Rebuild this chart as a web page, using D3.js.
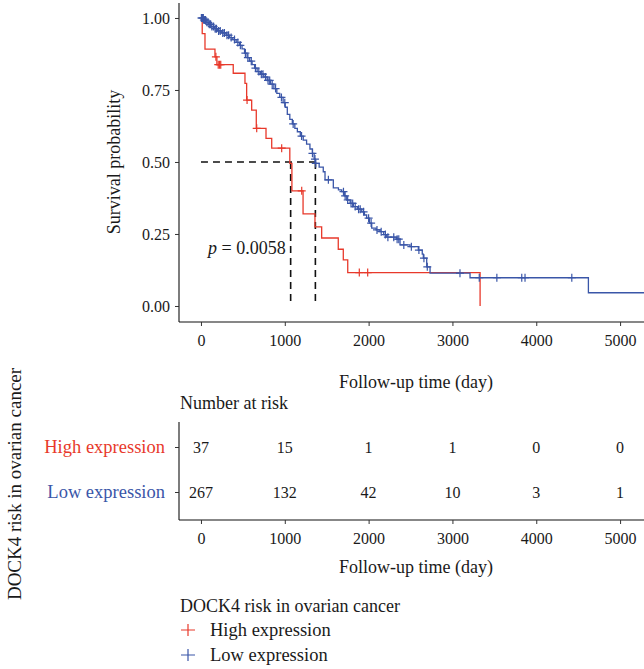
<!DOCTYPE html>
<html>
<head>
<meta charset="utf-8">
<script src="https://cdn.jsdelivr.net/npm/d3@7"></script>
<style>
  body { margin: 0; background: #fff; }
  svg text { font-family: "Liberation Serif", "DejaVu Serif", serif; }
</style>
</head>
<body>
<div id="chart"></div>
<script>
// survival steps: time (day) and survival after that time
var highTime = [0, 15, 48, 167, 190, 385, 525, 545, 605, 660, 776, 844, 1060, 1085, 1218, 1360, 1440, 1638, 1698, 1751, 3330];
var highSurv = [1, 0.946, 0.892, 0.865, 0.838, 0.808, 0.773, 0.715, 0.68, 0.617, 0.582, 0.548, 0.495, 0.40, 0.32, 0.275, 0.236, 0.197, 0.16, 0.116, 0];
var highCensor = [178, 206, 222, 236, 550, 665, 963, 1202, 1889, 1989];

var lowTime = [0, 30, 60, 90, 120, 160, 200, 250, 300, 340, 380, 420, 460, 490, 520, 550, 580, 610, 640, 670,
  710, 750, 790, 830, 870, 905, 940, 980, 1005, 1030, 1060, 1090, 1120, 1150, 1185, 1220, 1260, 1300, 1330, 1350,
  1365, 1410, 1459, 1480, 1579, 1640, 1679, 1710, 1739, 1780, 1818, 1870, 1918, 1950, 1977, 2010, 2037, 2090, 2136,
  2180, 2216, 2335, 2375, 2494, 2593, 2640, 2653, 2693, 2733, 3210, 4622, 5500];
var lowSurv = [1, 0.993, 0.985, 0.978, 0.97, 0.963, 0.955, 0.948, 0.94, 0.932, 0.925, 0.915, 0.905, 0.893, 0.878, 0.862, 0.85, 0.838, 0.826, 0.814,
  0.805, 0.795, 0.783, 0.77, 0.755, 0.738, 0.724, 0.706, 0.69, 0.665, 0.648, 0.632, 0.617, 0.605, 0.59, 0.576, 0.562, 0.545, 0.53, 0.51,
  0.495, 0.482, 0.466, 0.438, 0.41, 0.403, 0.397, 0.382, 0.368, 0.356, 0.345, 0.336, 0.327, 0.316, 0.305, 0.288, 0.27, 0.264, 0.258,
  0.248, 0.239, 0.232, 0.212, 0.206, 0.194, 0.18, 0.166, 0.136, 0.114, 0.098, 0.046, 0.046];
var lowCensor = [5, 12, 20, 28, 35, 45, 55, 70, 85, 100, 115, 130, 150, 170, 185, 210, 230, 260, 280, 310, 330, 360, 400, 440,
  470, 530, 560, 600, 650, 690, 720, 740, 770, 800, 820, 850, 890, 960, 1000, 1100, 1200, 1330, 1360, 1370, 1520, 1700,
  1720, 1750, 1790, 1810, 1840, 1880, 1900, 1940, 2000, 2030, 2100, 2150, 2200, 2230, 2300, 2340, 2360, 2420, 2510, 2600,
  2660, 2700, 3090, 3320, 3530, 3827, 3866, 4424];

var medians = [1070, 1365];
var pLabel = "0.0058";

var xTicks = [0, 1000, 2000, 3000, 4000, 5000];
var yTicks = [0, 0.25, 0.5, 0.75, 1];
var groups = ["High expression", "Low expression"];
var riskHigh = [37, 15, 1, 1, 0, 0];
var riskLow = [267, 132, 42, 10, 3, 1];

var colors = ["#e8392b", "#3a56a8"];
var ink = "#1a1a1a";

var width = 644, height = 669;

var svg = d3.select("#chart").append("svg")
    .attr("width", width)
    .attr("height", height);

// shared x scale, the right end runs past the picture edge like the original crop
var x = d3.scaleLinear().domain([-262, 5512]).range([179, 663]);
var y = d3.scaleLinear().domain([-0.0556, 1.052]).range([322, 3]);

svg.append("clipPath").attr("id", "plotclip")
  .append("rect").attr("x", 179).attr("y", 0).attr("width", width - 179).attr("height", 322);

// survival value at time t (step function)
function survAt(times, surv, t) {
    var i = d3.bisectRight(times, t) - 1;
    return surv[Math.max(i, 0)];
}

var plot = svg.append("g").attr("clip-path", "url(#plotclip)");

// median guides
plot.append("line")
    .attr("x1", x(0)).attr("x2", x(d3.max(medians)))
    .attr("y1", y(0.5)).attr("y2", y(0.5))
    .attr("stroke", "#111").attr("stroke-width", 1.6).attr("stroke-dasharray", "7,5");
plot.selectAll(".med").data(medians).enter().append("line")
    .attr("x1", function(d) { return x(d); }).attr("x2", function(d) { return x(d); })
    .attr("y1", y(0.5)).attr("y2", y(0))
    .attr("stroke", "#111").attr("stroke-width", 1.6).attr("stroke-dasharray", "7,5");

var line = d3.line()
    .x(function(d) { return x(d[0]); })
    .y(function(d) { return y(d[1]); })
    .curve(d3.curveStepAfter);

var series = [
    {time: highTime, surv: highSurv, censor: highCensor, color: colors[0]},
    {time: lowTime, surv: lowSurv, censor: lowCensor, color: colors[1]}
];

series.forEach(function(s) {
    var pts = d3.zip(s.time, s.surv);
    plot.append("path")
        .attr("d", line(pts))
        .attr("fill", "none")
        .attr("stroke", s.color)
        .attr("stroke-width", 1.3);

    plot.selectAll(null).data(s.censor).enter().append("path")
        .attr("transform", function(d) { return "translate(" + x(d) + "," + y(survAt(s.time, s.surv, d)) + ")"; })
        .attr("d", "M-4,0H4M0,-4V4")
        .attr("stroke", s.color)
        .attr("stroke-width", 1.2);
});

// p value
var pt = svg.append("text").attr("x", 208).attr("y", 254).style("font-size", "18px").style("fill", ink);
pt.append("tspan").style("font-style", "italic").text("p");
pt.append("tspan").text(" = " + pLabel);

// main axes
var xAxis = d3.axisBottom(x).tickValues(xTicks).tickSize(4).tickPadding(9).tickFormat(d3.format("d"));
var yAxis = d3.axisLeft(y).tickValues(yTicks).tickSize(4).tickPadding(5).tickFormat(d3.format(".2f"));

function styleAxis(g) {
    g.select(".domain").attr("stroke", "#111").attr("stroke-width", 1.1);
    g.selectAll(".tick line").attr("stroke", "#333");
    g.selectAll(".tick text").style("font-size", "16px").style("fill", ink);
}

function title(tx, ty, txt, rot) {
    var t = svg.append("text").attr("text-anchor", "middle")
        .style("font-size", "18px").style("fill", ink).text(txt);
    if (rot) t.attr("transform", "translate(" + tx + "," + ty + ") rotate(-90)");
    else t.attr("x", tx).attr("y", ty);
    return t;
}

svg.append("g").attr("transform", "translate(0,322)").call(xAxis).call(styleAxis)
   .select(".domain").attr("d", "M179,0H" + width);
svg.append("g").attr("transform", "translate(179,0)").call(yAxis).call(styleAxis)
   .select(".domain").attr("d", "M0,3V322");

title(416, 388, "Follow-up time (day)");
title(120, 162, "Survival probability", true);

// risk table
svg.append("text").attr("x", 180).attr("y", 409).style("font-size", "18px").style("fill", ink).text("Number at risk");

var rowY = d3.scalePoint().domain(groups).range([447, 492]);
var tableTop = 422, tableBottom = 520;

var rows = [riskHigh, riskLow];
rows.forEach(function(r, i) {
    svg.selectAll(null).data(r).enter().append("text")
        .attr("x", function(d, j) { return x(xTicks[j]); })
        .attr("y", rowY(groups[i]))
        .attr("dy", "0.35em")
        .attr("text-anchor", "middle")
        .style("font-size", "16px")
        .style("fill", ink)
        .text(function(d) { return d; });
});

var tyAxis = d3.axisLeft(rowY).tickSize(4).tickPadding(10);
var gty = svg.append("g").attr("transform", "translate(179,0)").call(tyAxis).call(styleAxis);
gty.select(".domain").attr("d", "M0," + tableTop + "V" + tableBottom);
gty.selectAll(".tick text").style("font-size", "18.5px")
    .style("fill", function(d, i) { return colors[i]; });

var gtx = svg.append("g").attr("transform", "translate(0," + tableBottom + ")").call(xAxis).call(styleAxis);
gtx.select(".domain").attr("d", "M179,0H" + width);

title(416, 573, "Follow-up time (day)");
title(21, 484, "DOCK4 risk in ovarian cancer", true).style("font-size", "19px");

// legend
svg.append("text").attr("x", 180).attr("y", 612).style("font-size", "18px").style("fill", ink).text("DOCK4 risk in ovarian cancer");
var leg = svg.selectAll(".leg").data(groups).enter().append("g")
    .attr("transform", function(d, i) { return "translate(188," + (630 + i * 25) + ")"; });
leg.append("path").attr("d", "M-7,0H7M0,-6V6")
    .attr("stroke", function(d, i) { return colors[i]; }).attr("stroke-width", 1.2);
leg.append("text").attr("x", 22).attr("dy", "0.35em").style("font-size", "18.5px").style("fill", ink)
    .text(function(d) { return d; });
</script>
</body>
</html>
